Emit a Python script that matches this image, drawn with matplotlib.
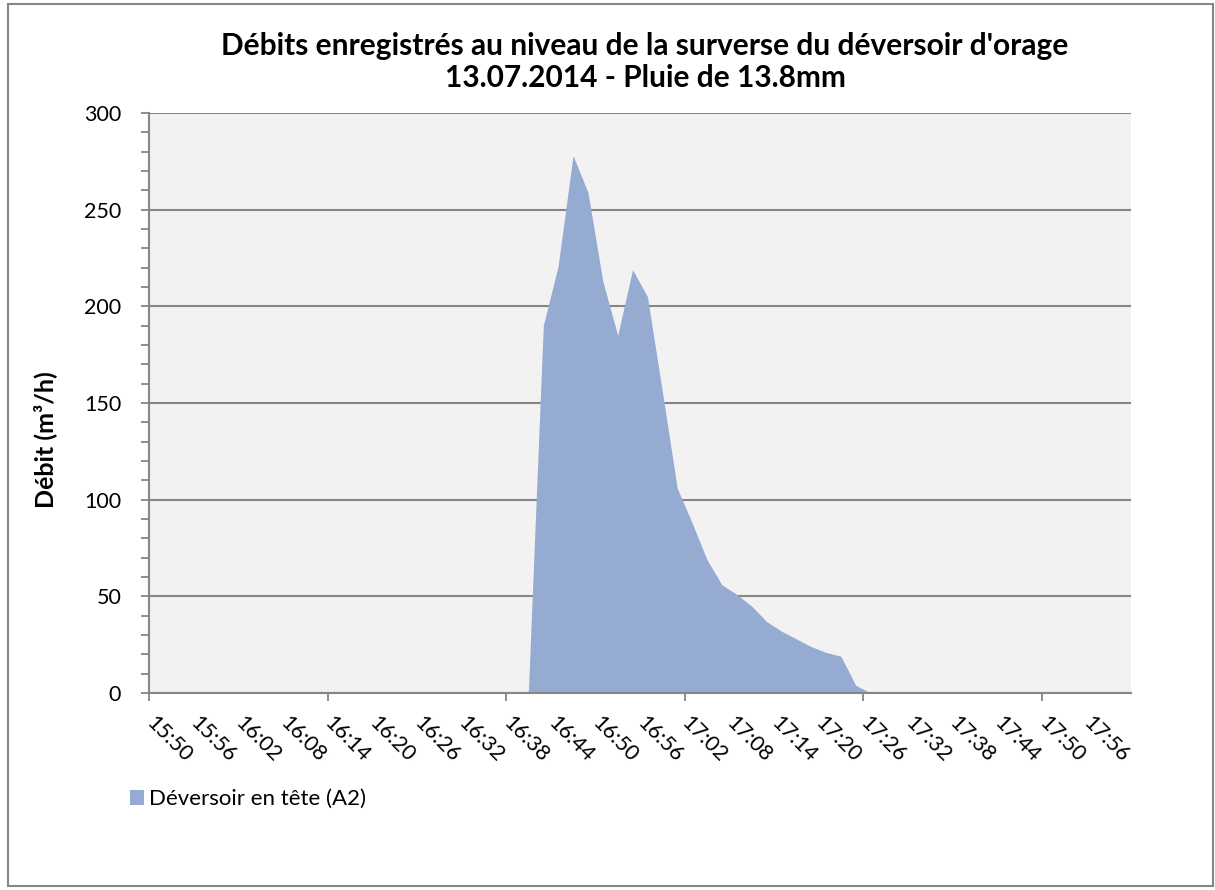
import matplotlib
matplotlib.use("Agg")
import matplotlib.pyplot as plt
from matplotlib.patches import Rectangle

plt.rcParams['font.family'] = ['Lato', 'DejaVu Sans']

# categories: one every 2 minutes from 15:50 to 18:00
times = []
for k in range(66):
    m = 15 * 60 + 50 + 2 * k
    times.append("%02d:%02d" % (m // 60, m % 60))

# debit (m3/h), zero outside the overflow event
debit = [0] * 24 + [0, 1, 190, 221, 278, 259, 213, 185, 219, 205,
                    156, 106, 88, 69, 56, 51, 45, 37, 32, 28,
                    24, 21, 19, 4, 0] + [0] * 17

title = "Débits enregistrés au niveau de la surverse du déversoir d'orage\n13.07.2014 - Pluie de 13.8mm"
serie = "Déversoir en tête (A2)"

W, H = 1215, 890
fig = plt.figure(figsize=(W / 100, H / 100), dpi=100)
ax = fig.add_axes([149 / W, 1 - 693 / H, (1131 - 149) / W, (693 - 113) / H])

gris = '#868686'
ax.set_facecolor('#f2f2f2')
idx = list(range(len(debit)))
ax.fill_between(idx, debit, color='#95abd2', linewidth=0, label=serie, zorder=2)

ax.set_xlim(-0.5, len(debit) - 0.5)
ax.set_ylim(0, 300)
ax.set_yticks(range(0, 301, 50))
ax.set_yticks(range(0, 301, 10), minor=True)
ax.yaxis.grid(True, color=gris, linewidth=1.5, zorder=1)
ax.set_axisbelow(True)

# labels every 3 categories, tick marks every 12 categories
ax.set_xticks(idx[::3])
ax.set_xticklabels(times[::3], rotation=-45, ha='left', rotation_mode='anchor')
ax.set_xticks([i - 0.5 for i in range(0, 66, 12)], minor=True)
ax.tick_params(axis='x', which='major', length=0, pad=14, labelsize=15.5)
ax.tick_params(axis='x', which='minor', length=6, width=1.3, color=gris)
ax.tick_params(axis='y', which='both', length=6, width=1.3, color=gris, labelsize=15.5, pad=14)

for s in ['top', 'right']:
    ax.spines[s].set_visible(False)
for s in ['left', 'bottom']:
    ax.spines[s].set_color(gris)
    ax.spines[s].set_linewidth(1.5)

ax.set_ylabel("Débit (m³/h)", fontsize=18, fontweight='bold', va='center')
ax.yaxis.set_label_coords((45 - 149) / 982, (693 - 440) / 580)
fig.text(645 / W, 1 - 62 / H, title, ha='center', va='center', fontsize=21.5,
         fontweight='bold', linespacing=1.2)

fig.legend(loc='center left', bbox_to_anchor=(110 / W, 1 - 799 / H), frameon=False,
           fontsize=16, handlelength=0.65, handleheight=0.65, handletextpad=0.2)

fig.patches.append(Rectangle((8 / W, 4 / H), 1205 / W, 882 / H, transform=fig.transFigure,
                             fill=False, edgecolor=gris, linewidth=1.5))

fig.savefig("out.png", dpi=100)
